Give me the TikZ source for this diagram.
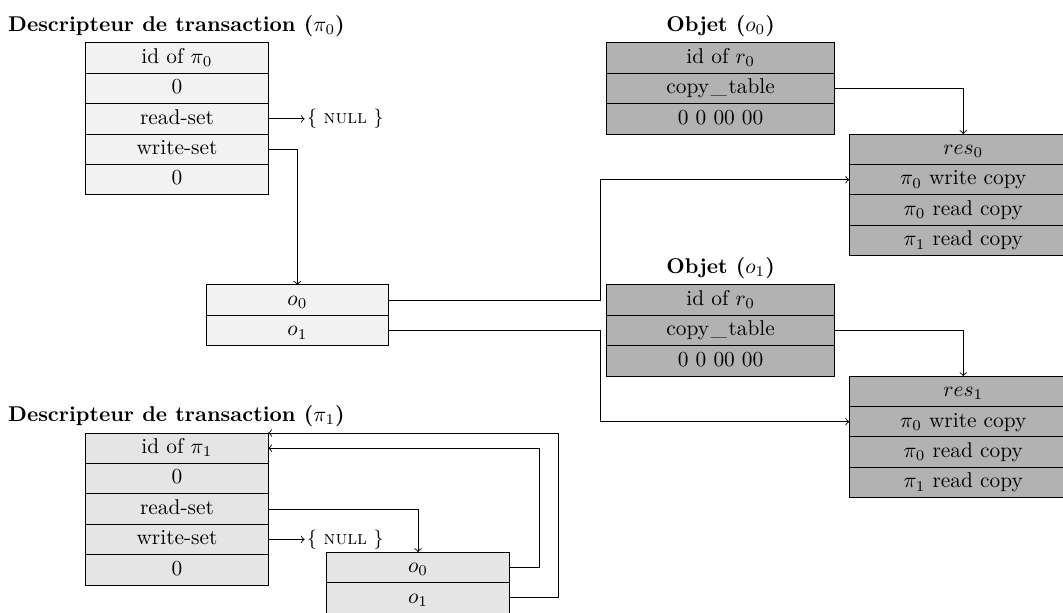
\documentclass[tikz,border=0pt]{standalone}
\usetikzlibrary{positioning}

\begin{document}
\begin{tikzpicture}[
	cell/.style={draw, minimum height=0.5cm, inner sep=0pt, outer sep=0pt, text height=1.6ex, text depth=0.45ex},
	desc/.style={cell, minimum width=3cm},
	obj/.style={cell, minimum width=3.75cm, fill=black!30},
	>=to]
	\useasboundingbox (0,0) rectangle (17.48,10.08);
	
	% descripteur pi_0
	\node[anchor=base west] (t0) at (0.01,9.57) {\textbf{Descripteur de transaction ($\pi_0$)}};
	\node[desc, fill=black!5] (d0a) at (2.91,9.125) {id of $\pi_0$};
	\node[desc, fill=black!5, below=0pt of d0a] (d0b) {0};
	\node[desc, fill=black!5, below=0pt of d0b] (d0c) {read-set};
	\node[desc, fill=black!5, below=0pt of d0c] (d0d) {write-set};
	\node[desc, fill=black!5, below=0pt of d0d] (d0e) {0};
	\node[right=0.6cm of d0c, inner sep=1pt] (n0) {\small\{ \textsc{null} \}};
	
	% liste des objets de pi_0
	\node[desc, fill=black!5] (l0a) at (4.89,5.145) {$o_0$};
	\node[desc, fill=black!5, below=0pt of l0a] (l0b) {$o_1$};
	
	% objet o_0
	\node[anchor=base] (to0) at (11.85,9.57) {\textbf{Objet ($o_0$)}};
	\node[obj] (o0a) at (11.85,9.125) {id of $r_0$};
	\node[obj, below=0pt of o0a] (o0b) {copy\kern.08em\_\kern.08em table};
	\node[obj, below=0pt of o0b] (o0c) {0 0 00 00};
	\node[obj] (r0a) at (15.84,7.625) {$res_0$};
	\node[obj, below=0pt of r0a] (r0b) {$\pi_0$ write copy};
	\node[obj, below=0pt of r0b] (r0c) {$\pi_0$ read copy};
	\node[obj, below=0pt of r0c] (r0d) {$\pi_1$ read copy};
	
	% objet o_1
	\node[anchor=base] (to1) at (11.85,5.59) {\textbf{Objet ($o_1$)}};
	\node[obj] (o1a) at (11.85,5.145) {id of $r_0$};
	\node[obj, below=0pt of o1a] (o1b) {copy\kern.08em\_\kern.08em table};
	\node[obj, below=0pt of o1b] (o1c) {0 0 00 00};
	\node[obj] (r1a) at (15.84,3.645) {$res_1$};
	\node[obj, below=0pt of r1a] (r1b) {$\pi_0$ write copy};
	\node[obj, below=0pt of r1b] (r1c) {$\pi_0$ read copy};
	\node[obj, below=0pt of r1c] (r1d) {$\pi_1$ read copy};
	
	% descripteur pi_1
	\node[anchor=base west] (t1) at (0.01,3.155) {\textbf{Descripteur de transaction ($\pi_1$)}};
	\node[desc, fill=black!10] (d1a) at (2.91,2.71) {id of $\pi_1$};
	\node[desc, fill=black!10, below=0pt of d1a] (d1b) {0};
	\node[desc, fill=black!10, below=0pt of d1b] (d1c) {read-set};
	\node[desc, fill=black!10, below=0pt of d1c] (d1d) {write-set};
	\node[desc, fill=black!10, below=0pt of d1d] (d1e) {0};
	\node[right=0.6cm of d1d, inner sep=1pt] (n1) {\small\{ \textsc{null} \}};
	
	% liste des objets de pi_1
	\node[desc, fill=black!10] (l1a) at (6.875,0.75) {$o_0$};
	\node[desc, fill=black!10, below=0pt of l1a] (l1b) {$o_1$};
	
	% fleches
	\coordinate (bend) at (9.87,0);
	\draw[->] (d0c.east) -- (n0.west);
	\draw[->] (d0d.east) -| (l0a.north);
	\draw[->] (l0a.east) -- (l0a.east -| bend) |- (r0b.west);
	\draw[->] (l0b.east) -- (l0b.east -| bend) |- (r1b.west);
	\draw[->] (o0b.east) -| (r0a.north);
	\draw[->] (o1b.east) -| (r1a.north);
	\draw[->] (d1c.east) -| (l1a.north);
	\draw[->] (d1d.east) -- (n1.west);
	\draw[->] (l1a.east) -- ++(0.5,0) |- (d1a.east);
	\draw[->] (l1b.east) -- ++(0.8,0) |- (d1a.north east);
\end{tikzpicture}
\end{document}
